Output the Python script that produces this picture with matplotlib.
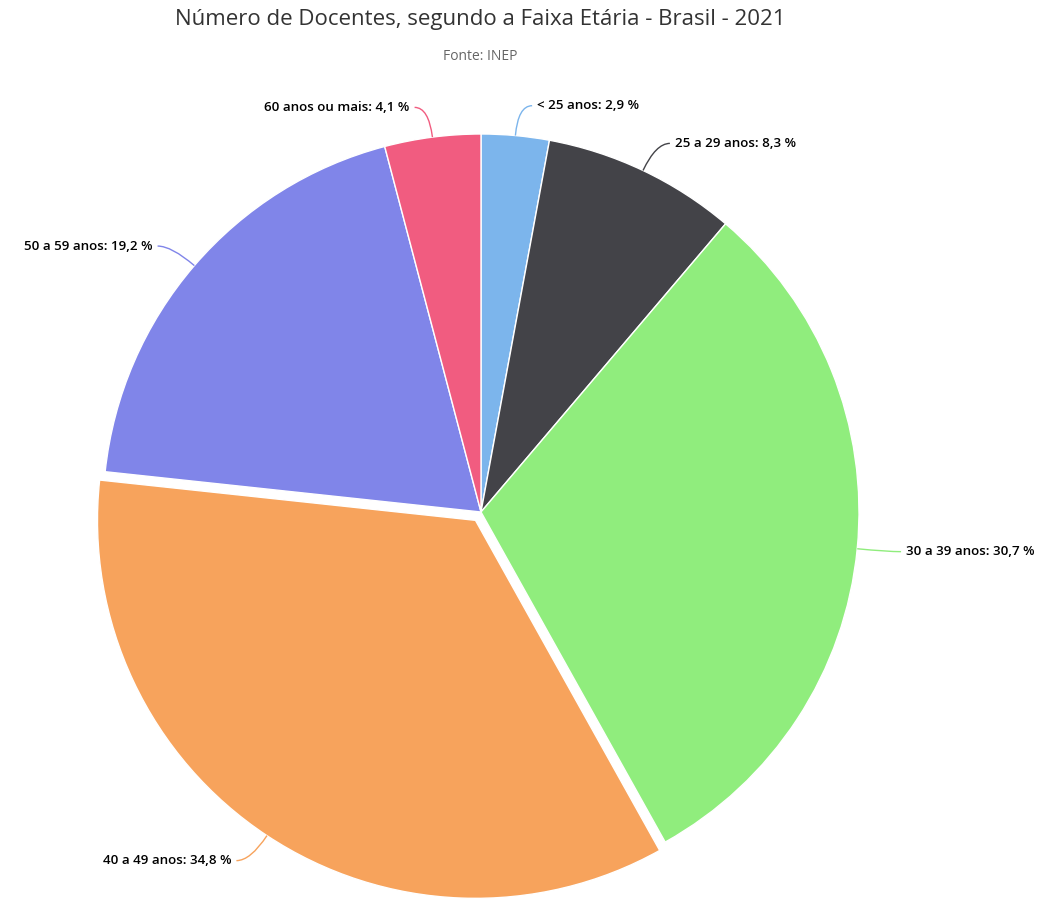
import numpy as np
import matplotlib.pyplot as plt
from matplotlib.path import Path
from matplotlib.patches import PathPatch

# dados
faixas = ["< 25 anos", "25 a 29 anos", "30 a 39 anos", "40 a 49 anos",
          "50 a 59 anos", "60 anos ou mais"]
percentuais = [2.9, 8.3, 30.7, 34.8, 19.2, 4.1]
cores = ["#7cb5ec", "#434348", "#90ed7d", "#f7a35c", "#8085e9", "#f15c80"]
destaque = [0, 0, 0, 1, 0, 0]

W, H = 1054, 900
CX, CY = 481, H - 512
R = 378
SLICE_OFF = 10

fig = plt.figure(figsize=(W / 100, H / 100), dpi=100, facecolor="white")
ax = fig.add_axes([0, 0, 1, 1])

# explode do matplotlib é deslocamento absoluto (unidades de dados)
explode = [SLICE_OFF if d else 0 for d in destaque]
ax.pie(percentuais, colors=cores, startangle=90, counterclock=False,
       center=(CX, CY), radius=R, explode=explode,
       wedgeprops=dict(edgecolor="white", linewidth=1))
ax.set_xlim(0, W)
ax.set_ylim(0, H)
ax.set_aspect("equal")
ax.axis("off")

# rótulos com conectores
total = sum(percentuais)
acum = 0
for nome, val, cor, d in zip(faixas, percentuais, cores, destaque):
    meio = (acum + val / 2) / total
    acum += val
    a = np.deg2rad(90 - 360 * meio)
    ux, uy = np.cos(a), np.sin(a)
    off = SLICE_OFF if d else 0
    cx, cy = CX + off * ux, CY + off * uy
    p0 = (cx + R * ux, cy + R * uy)
    p1 = (cx + (R + 30) * ux, cy + (R + 30) * uy)
    lado = 1 if ux >= 0 else -1
    p2 = (p1[0] + 14 * lado, p1[1])
    path = Path([p0, p1, p2], [Path.MOVETO, Path.CURVE3, Path.CURVE3])
    ax.add_patch(PathPatch(path, fill=False, edgecolor=cor, lw=1))
    txt = f"{nome}: {val:.1f} %".replace(".", ",")
    ax.text(p2[0] + 5 * lado, p2[1], txt, ha="left" if lado > 0 else "right",
            va="center", fontsize=9.6, fontweight="semibold",
            family="Open Sans", color="#000000")

fig.text(0.456, 1 - 20 / H, "Número de Docentes, segundo a Faixa Etária - Brasil - 2021",
         ha="center", va="center", fontsize=16, family="Open Sans", color="#333333")
fig.text(0.456, 1 - 56 / H, "Fonte: INEP", ha="center", va="center",
         fontsize=10, family="Open Sans", color="#666666")

fig.savefig("out.png", dpi=100, facecolor="white")
